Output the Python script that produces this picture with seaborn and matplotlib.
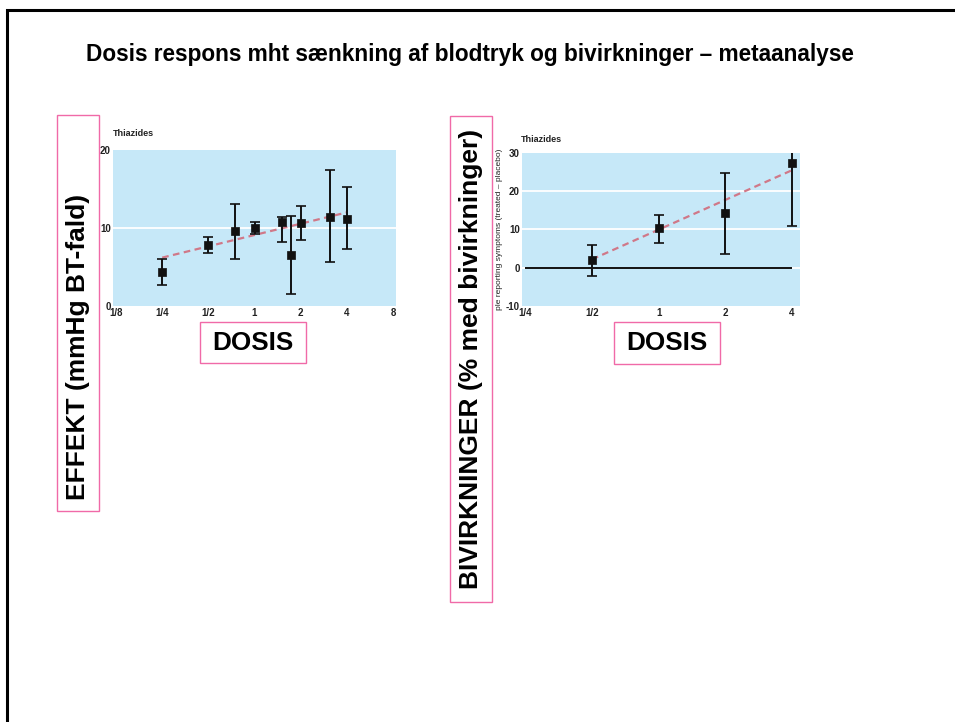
import numpy as np
import pandas as pd
import matplotlib
matplotlib.use("Agg")
import matplotlib.pyplot as plt
from matplotlib.patches import Rectangle
import seaborn as sns

sns.set_theme(style="white")
plt.rcParams['font.family'] = ['Liberation Sans', 'DejaVu Sans']
plt.rcParams['text.color'] = 'black'
plt.rcParams['axes.unicode_minus'] = False

# ---- data ----
title = "Dosis respons mht sænkning af blodtryk og bivirkninger – metaanalyse"

eff_dose = [0.25, 0.5, 0.75, 1.0, 1.5, 1.73, 2.0, 3.1, 4.0]
eff_mean = [4.3, 7.8, 9.6, 10.0, 10.8, 6.6, 10.6, 11.4, 11.2]
eff_low = [2.7, 6.8, 6.0, 9.2, 8.2, 1.5, 8.5, 5.7, 7.3]
eff_high = [6.0, 8.8, 13.1, 10.8, 11.4, 11.5, 12.8, 17.5, 15.2]
eff_trend_x = [0.25, 4.0]
eff_trend_y = [6.2, 12.0]
eff_xticks = [0.125, 0.25, 0.5, 1, 2, 4, 8]
eff_xlabels = ["1/8", "1/4", "1/2", "1", "2", "4", "8"]
eff_yticks = [0, 10, 20]

side_dose = [0.5, 1.0, 2.0, 4.0]
side_mean = [2.0, 10.3, 14.2, 27.5]
side_low = [-2.1, 6.6, 3.6, 11.0]
side_high = [6.0, 13.8, 24.8, 30.5]
side_trend_x = [0.5, 4.0]
side_trend_y = [2.2, 25.5]
side_xticks = [0.25, 0.5, 1, 2, 4]
side_xlabels = ["1/4", "1/2", "1", "2", "4"]
side_yticks = [-10, 0, 10, 20, 30]

W, H = 955, 722
fig = plt.figure(figsize=(W / 100, H / 100), dpi=100)
fig.patch.set_facecolor("white")

def px_axes(x0, y0, x1, y1):
    return fig.add_axes([x0 / W, 1 - y1 / H, (x1 - x0) / W, (y1 - y0) / H])

def fx(x):
    return x / W

def fy(y):
    return 1 - y / H

# outer frame
fig.patches.append(Rectangle((fx(7), fy(760)), fx(1000), fy(10) - fy(760),
                             transform=fig.transFigure, fill=False,
                             edgecolor="black", linewidth=2.2))

fig.text(fx(470), fy(55), title, ha="center", va="center",
         fontsize=16.3, fontweight="bold")

BG = "#c6e8f8"
TREND = "#d07888"

def panel(ax, dose, mean, low, high, tx, ty, xticks, xlabels, yticks, xlim, ylim, grid):
    ax.set_facecolor(BG)
    ax.set_xscale("log", base=2)
    for g in grid:
        ax.axhline(g, color="white", lw=1.3, zorder=1)
    df = pd.DataFrame({"dose": dose, "mean": mean})
    dt = pd.DataFrame({"x": tx, "y": ty})
    sns.lineplot(data=dt, x="x", y="y", ax=ax, color=TREND, lw=1.6,
                 linestyle=(0, (3, 2)), zorder=2)
    yerr = [np.array(mean) - np.array(low), np.array(high) - np.array(mean)]
    ax.errorbar(dose, mean, yerr=yerr, fmt="none", ecolor="#111111",
                elinewidth=1.4, capsize=3.5, capthick=1.2, zorder=3)
    sns.scatterplot(data=df, x="dose", y="mean", ax=ax, marker="s", s=40,
                    color="#111111", edgecolor="#111111", zorder=4)
    ax.set_xlim(*xlim)
    ax.set_ylim(*ylim)
    ax.set_xticks(xticks)
    ax.set_xticklabels(xlabels)
    ax.minorticks_off()
    ax.set_yticks(yticks)
    ax.set_xlabel("")
    ax.set_ylabel("")
    ax.tick_params(axis="both", length=0, labelsize=7, pad=1.5, colors="#222222")
    for lab in ax.get_xticklabels() + ax.get_yticklabels():
        lab.set_fontweight("bold")
    for s in ax.spines.values():
        s.set_visible(False)
    ax.grid(False)

ax1 = px_axes(113, 150, 396, 306)
panel(ax1, eff_dose, eff_mean, eff_low, eff_high, eff_trend_x, eff_trend_y,
      eff_xticks, eff_xlabels, eff_yticks,
      (2 ** -3.065, 2 ** 3.065), (0, 20), [10])

ax2 = px_axes(522, 153, 800, 306)
panel(ax2, side_dose, side_mean, side_low, side_high, side_trend_x, side_trend_y,
      side_xticks, side_xlabels, side_yticks,
      (2 ** -2.05, 2 ** 2.12), (-10, 30), [0, 10, 20])
ax2.hlines(0, 0.25, 4, color="#111111", lw=1.4, zorder=2)
ax2.set_ylabel("ple reporting symptoms (treated – placebo)", fontsize=6, labelpad=2,
               color="#222222")

fig.text(fx(113), fy(134), "Thiazides", ha="left", va="center",
         fontsize=6.5, fontweight="bold", color="#222222")
fig.text(fx(521), fy(139), "Thiazides", ha="left", va="center",
         fontsize=6.5, fontweight="bold", color="#222222")

PINK = "#f06aa8"

def boxed(x0, y0, x1, y1, text, rot, fs, ty=None):
    fig.patches.append(Rectangle((fx(x0), fy(y1)), fx(x1) - fx(x0), fy(y0) - fy(y1),
                                 transform=fig.transFigure, fill=False,
                                 edgecolor=PINK, linewidth=1.0))
    if ty is None:
        ty = (y0 + y1) / 2
    fig.text(fx((x0 + x1) / 2), fy(ty), text, rotation=rot,
             ha="center", va="center", fontsize=fs, fontweight="bold")

boxed(57, 115, 99, 511, "EFFEKT (mmHg BT-fald)", 90, 19, ty=347)
boxed(450, 116, 492, 602, "BIVIRKNINGER (% med bivirkninger)", 90, 19)
boxed(200, 322, 306, 363, "DOSIS", 0, 18.8)
boxed(614, 322, 720, 364, "DOSIS", 0, 18.8)

fig.savefig("out.png", dpi=100)
